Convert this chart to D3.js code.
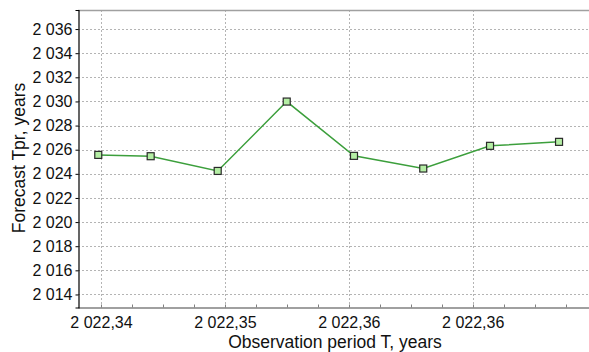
<!DOCTYPE html>
<html>
<head>
<meta charset="utf-8">
<script src="https://cdn.jsdelivr.net/npm/d3@7/dist/d3.min.js"></script>
<style>
  html, body { margin: 0; padding: 0; background: #ffffff; }
  svg { display: block; font-family: "Liberation Sans", Arial, sans-serif; }
</style>
</head>
<body>
<svg id="chart" width="589" height="352"></svg>
<script>
// ---- data (x in axis-tick units: 0 = first labelled tick) ----
const xValues = [-0.022, 0.401, 0.942, 1.499, 2.042, 2.601, 3.14, 3.697];
const yValues = [2025.57, 2025.46, 2024.24, 2029.99, 2025.49, 2024.44, 2026.32, 2026.65];
const xTickValues = [0, 1, 2, 3];
const xTickLabels = ["2 022,34", "2 022,35", "2 022,36", "2 022,36"];
const yTickValues = [2014, 2016, 2018, 2020, 2022, 2024, 2026, 2028, 2030, 2032, 2034, 2036];
const xDomain = [-0.1856, 3.963];
const yDomain = [2012.92, 2037.58];
const xTitle = "Observation period T, years";
const yTitle = "Forecast Tpr, years";

(function () {
const svg = d3.select("#chart");
const mLeft = 78, mRight = 592, mTop = 10, mBottom = 307.5;

const x = d3.scaleLinear().domain(xDomain).range([mLeft, mRight]);
const y = d3.scaleLinear().domain(yDomain).range([mBottom, mTop]);

const fmtY = v => `${Math.floor(v / 1000)} ${String(v % 1000).padStart(3, "0")}`;

// grid
const grid = svg.append("g").attr("stroke", "#b4b4b4").attr("stroke-width", 1)
  .attr("stroke-dasharray", "2,2");
grid.selectAll("line.h").data(yTickValues).join("line").attr("class", "h")
  .attr("x1", mLeft).attr("x2", mRight)
  .attr("y1", d => Math.round(y(d)) + 0.5).attr("y2", d => Math.round(y(d)) + 0.5);
grid.selectAll("line.v").data(xTickValues).join("line").attr("class", "v")
  .attr("y1", mTop).attr("y2", mBottom)
  .attr("x1", d => Math.round(x(d)) + 0.5).attr("x2", d => Math.round(x(d)) + 0.5);

// top border
svg.append("line").attr("x1", mLeft).attr("x2", 589).attr("y1", mTop + 0.5).attr("y2", mTop + 0.5)
  .attr("stroke", "#a0a0a0").attr("stroke-width", 1.5);

// x axis
const minorX = d3.range(0, 16).map(i => i * 0.25).filter(v => v <= 3.8);
const xAxis = d3.axisBottom(x).tickValues(xTickValues)
  .tickFormat((d, i) => xTickLabels[i]).tickSize(0).tickPadding(9.5);
const gx = svg.append("g").attr("transform", `translate(0,${mBottom})`).call(xAxis);
gx.select(".domain").attr("stroke", "#808080").attr("stroke-width", 1.5);
gx.selectAll("text").attr("font-size", 16).attr("fill", "#111")
  .attr("font-family", "Liberation Sans, Arial, sans-serif");
svg.append("g").selectAll("line").data(minorX).join("line")
  .attr("x1", d => Math.round(x(d)) + 0.5).attr("x2", d => Math.round(x(d)) + 0.5)
  .attr("y1", mBottom).attr("y2", mBottom - 3)
  .attr("stroke", "#808080").attr("stroke-width", 1);

// y axis
const yAxis = d3.axisLeft(y).tickValues(yTickValues).tickFormat(fmtY)
  .tickSize(3).tickPadding(3);
const gy = svg.append("g").attr("transform", `translate(${mLeft + 0.5},0)`).call(yAxis);
gy.select(".domain").attr("stroke", "#000").attr("stroke-width", 1.2);
gy.selectAll(".tick line").attr("stroke", "#000");
gy.selectAll("text").attr("font-size", 16).attr("fill", "#111")
  .attr("font-family", "Liberation Sans, Arial, sans-serif");

// line
const pts = xValues.map((v, i) => [v, yValues[i]]);
svg.append("path").datum(pts)
  .attr("fill", "none").attr("stroke", "#3c9f3c").attr("stroke-width", 1.5)
  .attr("d", d3.line().x(d => x(d[0])).y(d => y(d[1])));

// markers
svg.append("g").selectAll("rect").data(pts).join("rect")
  .attr("x", d => x(d[0]) - 3.5).attr("y", d => y(d[1]) - 3.5)
  .attr("width", 7).attr("height", 7)
  .attr("fill", "#b4eea4").attr("stroke", "#2a2a2a").attr("stroke-width", 1.2);

// titles
svg.append("text").attr("x", 335).attr("y", 347.5).attr("text-anchor", "middle")
  .attr("font-size", 17.5).attr("fill", "#111").text(xTitle);
svg.append("text").attr("transform", "translate(25,158) rotate(-90)")
  .attr("text-anchor", "middle").attr("font-size", 17.5).attr("fill", "#111").text(yTitle);
})();
</script>
</body>
</html>
